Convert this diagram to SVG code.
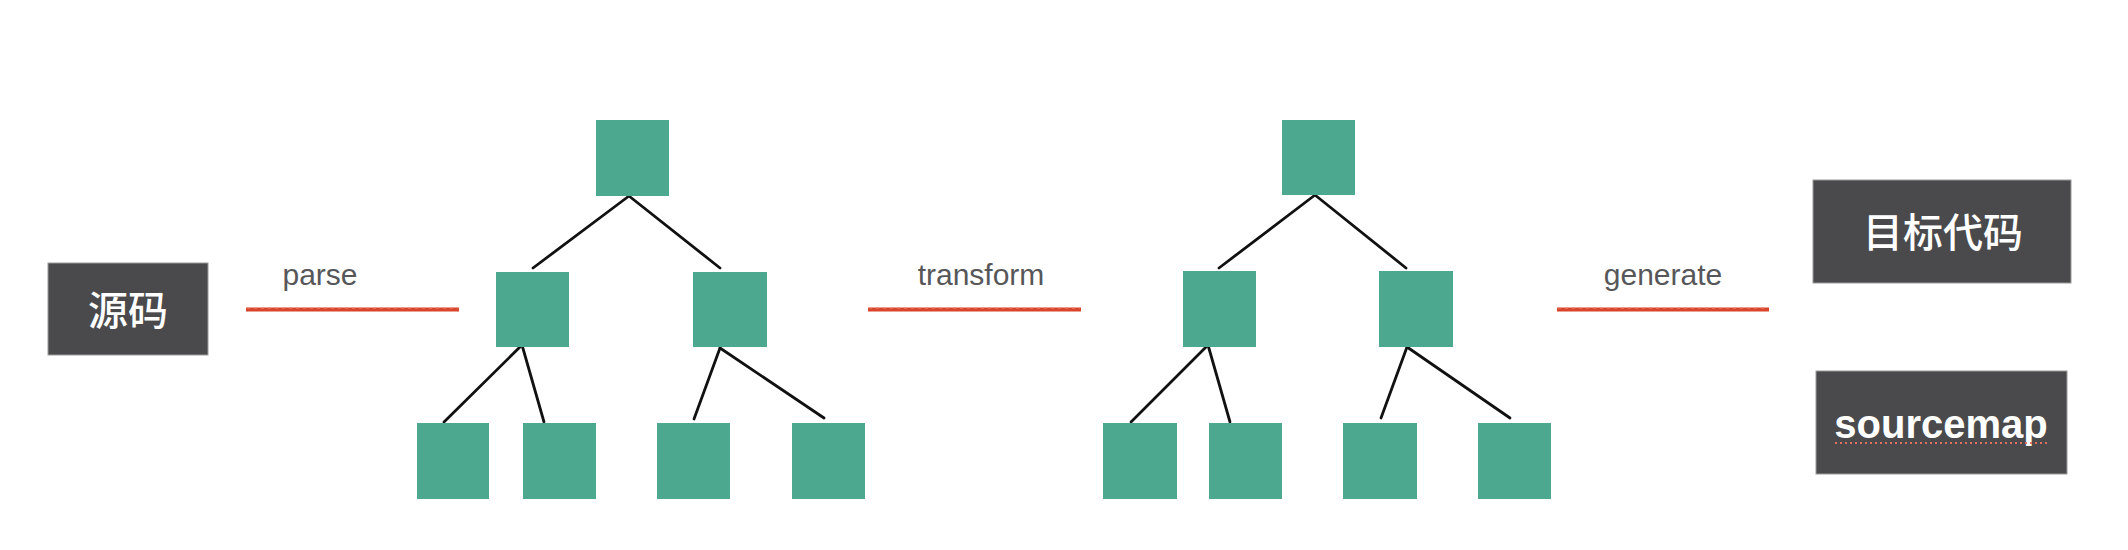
<svg xmlns="http://www.w3.org/2000/svg" width="2128" height="550" viewBox="0 0 2128 550">
<style>
.bg{fill:#ffffff}
.dark{fill:#4a4a4c;stroke:#9a9a9a;stroke-width:1}
.node{fill:#4ca88e}
.cjk{font-family:"Noto Sans CJK SC","Liberation Sans",sans-serif;font-size:40px;font-weight:500;fill:#ffffff;text-anchor:middle}
.en{font-family:"Liberation Sans",Arial,sans-serif;font-size:40px;font-weight:bold;fill:#ffffff;text-anchor:middle}
.lbl{font-family:"Liberation Sans",Arial,sans-serif;font-size:30px;fill:#57575a;text-anchor:middle}
.edge{stroke:#111111;stroke-width:2.8;fill:none;stroke-linecap:round}
.red{stroke:#d9452c;stroke-width:4;fill:none}
.redtex{stroke:#f08a70;stroke-width:1.2;fill:none;stroke-dasharray:3 4}
.dots{stroke:#e07060;stroke-width:2;fill:none;stroke-dasharray:2 3}
</style>
<rect class="bg" x="0" y="0" width="2128" height="550"/>

<g id="source">
<rect class="dark" x="48" y="263" width="160" height="92"/>
<text class="cjk" x="128" y="325">源码</text>
</g>

<g id="target">
<rect class="dark" x="1813" y="180" width="258" height="103"/>
<text class="cjk" x="1943" y="247">目标代码</text>
</g>

<g id="sourcemap">
<rect class="dark" x="1816" y="371" width="251" height="103"/>
<text class="en" x="1941" y="438">sourcemap</text>
<line class="dots" x1="1835" y1="443" x2="2048" y2="443"/>
</g>

<g id="labels">
<text class="lbl" x="320" y="285">parse</text>
<line class="red" x1="246" y1="309.5" x2="459" y2="309.5"/>
<line class="redtex" x1="247" y1="308" x2="458" y2="308"/>
<text class="lbl" x="981" y="285">transform</text>
<line class="red" x1="868" y1="309.5" x2="1081" y2="309.5"/>
<line class="redtex" x1="869" y1="308" x2="1080" y2="308"/>
<text class="lbl" x="1663" y="285">generate</text>
<line class="red" x1="1557" y1="309.5" x2="1769" y2="309.5"/>
<line class="redtex" x1="1558" y1="308" x2="1768" y2="308"/>
</g>

<g id="connectors">
<line class="edge" x1="629" y1="196" x2="533" y2="268"/>
<line class="edge" x1="629" y1="196" x2="720" y2="268"/>
<line class="edge" x1="522" y1="345" x2="444" y2="422"/>
<line class="edge" x1="522" y1="345" x2="544" y2="422"/>
<line class="edge" x1="720" y1="348" x2="694" y2="419"/>
<line class="edge" x1="720" y1="348" x2="824" y2="418"/>
<line class="edge" x1="1315" y1="195" x2="1219" y2="268"/>
<line class="edge" x1="1315" y1="195" x2="1406" y2="268"/>
<line class="edge" x1="1208" y1="345" x2="1131" y2="422"/>
<line class="edge" x1="1208" y1="345" x2="1230" y2="422"/>
<line class="edge" x1="1407" y1="347" x2="1381" y2="418"/>
<line class="edge" x1="1407" y1="347" x2="1510" y2="418"/>
</g>

<g id="tree1">
<rect id="t1-root" class="node" x="596" y="120" width="73" height="76"/>
<rect id="t1-l" class="node" x="496" y="272" width="73" height="75"/>
<rect id="t1-r" class="node" x="693" y="272" width="74" height="75"/>
<rect id="t1-ll" class="node" x="417" y="423" width="72" height="76"/>
<rect id="t1-lr" class="node" x="523" y="423" width="73" height="76"/>
<rect id="t1-rl" class="node" x="657" y="423" width="73" height="76"/>
<rect id="t1-rr" class="node" x="792" y="423" width="73" height="76"/>
</g>

<g id="tree2">
<rect id="t2-root" class="node" x="1282" y="120" width="73" height="75"/>
<rect id="t2-l" class="node" x="1183" y="271" width="73" height="76"/>
<rect id="t2-r" class="node" x="1379" y="271" width="74" height="76"/>
<rect id="t2-ll" class="node" x="1103" y="423" width="74" height="76"/>
<rect id="t2-lr" class="node" x="1209" y="423" width="73" height="76"/>
<rect id="t2-rl" class="node" x="1343" y="423" width="74" height="76"/>
<rect id="t2-rr" class="node" x="1478" y="423" width="73" height="76"/>
</g>
</svg>
